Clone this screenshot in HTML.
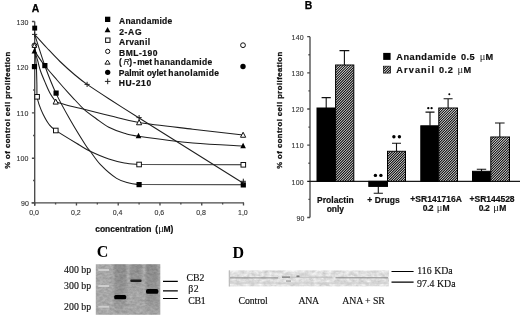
<!DOCTYPE html>
<html><head><meta charset="utf-8"><title>Figure</title>
<style>
html,body{margin:0;padding:0;background:#fff;}
svg{display:block;}
text{font-family:"Liberation Sans",sans-serif;fill:#111;}
.b{font-weight:bold;font-size:8.5px;stroke:#111;stroke-width:0.2px;}
.yl{font-size:7.7px;stroke-width:0.3px;}
.b2{font-weight:bold;font-size:9.2px;stroke:#111;stroke-width:0.2px;}
.pl{font-weight:bold;font-size:10.4px;fill:#000;stroke:#000;stroke-width:0.25px;}
.t{font-size:7px;fill:#333;stroke:#333;stroke-width:0.12px;}
.s{font-family:"Liberation Serif",serif;font-size:9.8px;fill:#111;stroke:#111;stroke-width:0.15px;}
.sb{font-family:"Liberation Serif",serif;font-weight:bold;font-size:16px;fill:#000;}
.sym{font-family:"Liberation Serif",serif;font-weight:normal;font-size:10.5px;stroke:none;fill:#222;}
.c{stroke:#1e1e1e;stroke-width:1.05;fill:none;}
.ax{stroke:#4a4a4a;stroke-width:1.35;fill:none;}
</style></head><body>
<svg width="520" height="322" viewBox="0 0 520 322">
<defs>
<filter id="bl" x="-5%" y="-20%" width="110%" height="140%"><feGaussianBlur stdDeviation="0.6"/></filter>
<filter id="bl2" x="-5%" y="-50%" width="110%" height="200%"><feGaussianBlur stdDeviation="0.45"/></filter>
<filter id="nzg" x="0" y="0" width="100%" height="100%" color-interpolation-filters="sRGB"><feTurbulence type="fractalNoise" baseFrequency="0.3 0.45" numOctaves="2" seed="7" result="n"/><feColorMatrix in="n" type="matrix" values="0.2 0 0 0 0.555  0.2 0 0 0 0.555  0.2 0 0 0 0.555  0 0 0 0 1"/><feComposite in2="SourceGraphic" operator="in"/></filter>
<filter id="nzb" x="0" y="0" width="100%" height="100%" color-interpolation-filters="sRGB"><feTurbulence type="fractalNoise" baseFrequency="0.22 0.3" numOctaves="3" seed="11" result="n"/><feColorMatrix in="n" type="matrix" values="0.26 0 0 0 0.745  0.26 0 0 0 0.745  0.26 0 0 0 0.745  0 0 0 0 1"/><feComposite in2="SourceGraphic" operator="in"/></filter>
<filter id="bl3" x="-20%" y="-5%" width="140%" height="110%"><feGaussianBlur stdDeviation="1.1 0.3"/></filter>
<linearGradient id="lg" x1="0" y1="0" x2="0" y2="1"><stop offset="0" stop-color="#000" stop-opacity="0.17"/><stop offset="0.7" stop-color="#000" stop-opacity="0.11"/><stop offset="1" stop-color="#000" stop-opacity="0.03"/></linearGradient>
<linearGradient id="lg3" x1="0" y1="0" x2="0" y2="1"><stop offset="0" stop-color="#000" stop-opacity="0.17"/><stop offset="0.3" stop-color="#000" stop-opacity="0.1"/><stop offset="0.45" stop-color="#000" stop-opacity="0.02"/><stop offset="1" stop-color="#000" stop-opacity="0"/></linearGradient>
</defs>
<rect width="520" height="322" fill="#fff"/>
<text x="31.8" y="11.9" class="pl">A</text>
<text transform="translate(9.9,168.8) rotate(-90)" class="b yl" textLength="117" lengthAdjust="spacing">% of control cell prolifeation</text>
<path class="ax" d="M34.70 21.50 V205.70 M31.50 202.80 H244.00"/>
<path class="ax" stroke-width="1" d="M31.90 21.50 H34.70M31.90 67.20 H34.70M31.90 112.80 H34.70M31.90 158.20 H34.70M31.90 202.80 H34.70M33.10 44.30 H34.70M33.10 90.00 H34.70M33.10 135.50 H34.70M33.10 180.50 H34.70M34.70 202.80 V205.40M55.58 202.80 V204.40M76.46 202.80 V205.40M97.34 202.80 V204.40M118.22 202.80 V205.40M139.10 202.80 V204.40M159.98 202.80 V205.40M180.86 202.80 V204.40M201.74 202.80 V205.40M222.62 202.80 V204.40M243.50 202.80 V205.40"/>
<text x="16.5" y="24.5" class="t" textLength="11.8" lengthAdjust="spacing">130</text>
<text x="16.5" y="70.2" class="t" textLength="11.8" lengthAdjust="spacing">120</text>
<text x="16.5" y="115.8" class="t" textLength="11.8" lengthAdjust="spacing">110</text>
<text x="16.5" y="161.2" class="t" textLength="11.8" lengthAdjust="spacing">100</text>
<text x="21.0" y="205.9" class="t" textLength="7.8" lengthAdjust="spacing">90</text>
<text x="29.3" y="214.8" class="t" textLength="9.6" lengthAdjust="spacing">0,0</text>
<text x="71.1" y="214.8" class="t" textLength="9.6" lengthAdjust="spacing">0,2</text>
<text x="112.8" y="214.8" class="t" textLength="9.6" lengthAdjust="spacing">0,4</text>
<text x="154.6" y="214.8" class="t" textLength="9.6" lengthAdjust="spacing">0,6</text>
<text x="196.3" y="214.8" class="t" textLength="9.6" lengthAdjust="spacing">0,8</text>
<text x="238.1" y="214.8" class="t" textLength="9.6" lengthAdjust="spacing">1,0</text>
<text x="95.2" y="232.1" class="b" textLength="56.2" lengthAdjust="spacing">concentration</text>
<text x="155.3" y="232.1" class="b">(<tspan class="sym" x="158.2">μ</tspan><tspan x="163.4">M)</tspan></text>
<path class="c" d="M34.70 34.50 C36.38 39.67 41.22 55.73 44.75 65.50 C48.28 75.27 51.69 84.10 55.90 93.10 C60.11 102.10 65.07 110.85 70.00 119.50 C74.93 128.15 82.13 139.72 85.50 145.00 C88.87 150.28 87.62 147.83 90.20 151.20 C92.78 154.57 96.60 160.67 101.00 165.20 C105.40 169.73 111.93 175.43 116.60 178.40 C121.27 181.37 125.25 181.97 129.00 183.00 C132.75 184.03 137.42 184.33 139.10 184.60 L243.3 184.8"/>
<path class="c" d="M34.60 46.00 C34.88 49.33 35.92 59.50 36.30 66.00 C36.68 72.50 36.77 79.87 36.90 85.00 C37.03 90.13 36.70 93.43 37.10 96.80 C37.50 100.17 38.28 102.25 39.30 105.20 C40.32 108.15 41.65 111.40 43.20 114.50 C44.75 117.60 46.52 121.15 48.60 123.80 C50.68 126.45 50.58 126.87 55.70 130.40 C60.82 133.93 73.55 141.53 79.30 145.00 C85.05 148.47 85.28 148.87 90.20 151.20 C95.12 153.53 103.12 157.05 108.80 159.00 C114.48 160.95 119.25 161.98 124.30 162.90 C129.35 163.82 136.63 164.23 139.10 164.50 L243.3 164.8"/>
<path class="c" d="M34.60 51.00 C36.08 53.17 39.77 59.17 43.50 64.00 C47.23 68.83 52.78 75.10 57.00 80.00 C61.22 84.90 65.80 90.07 68.80 93.40 C71.80 96.73 72.47 97.35 75.00 100.00 C77.53 102.65 80.50 106.22 84.00 109.30 C87.50 112.38 91.87 115.52 96.00 118.50 C100.13 121.48 104.08 124.75 108.80 127.20 C113.52 129.65 119.35 131.70 124.30 133.20 C129.25 134.70 127.08 134.57 138.50 136.20 C149.92 137.83 175.37 141.37 192.80 143.00 C210.23 144.63 234.72 145.50 243.10 146.00"/>
<path class="c" d="M34.70 46.00 C34.88 47.33 35.28 51.50 35.80 54.00 C36.32 56.50 37.02 58.17 37.80 61.00 C38.58 63.83 39.22 67.28 40.50 71.00 C41.78 74.72 43.88 79.55 45.50 83.30 C47.12 87.05 48.50 90.42 50.20 93.50 C51.90 96.58 54.78 100.42 55.70 101.80"/>
<path class="c" d="M55.70 101.80 C58.08 102.48 65.28 104.65 70.00 105.90 C74.72 107.15 77.33 107.67 84.00 109.30 C90.67 110.93 100.82 113.52 110.00 115.70 C119.18 117.88 125.30 120.15 139.10 122.40 C152.90 124.65 175.47 127.10 192.80 129.20 C210.13 131.30 234.72 134.03 243.10 135.00"/>
<path class="c" d="M34.70 34.50 C36.75 36.75 42.78 43.50 47.00 48.00 C51.22 52.50 55.33 57.00 60.00 61.50 C64.67 66.00 70.48 71.18 75.00 75.00 C79.52 78.82 81.27 80.32 87.10 84.40 C92.93 88.48 101.33 93.90 110.00 99.50 C118.67 105.10 134.25 114.92 139.10 118.00 L243.3 183.3"/>
<rect x="32.25" y="25.65" width="4.90" height="4.90" fill="#000"/>
<rect x="31.90" y="64.00" width="5.20" height="5.20" fill="#000"/>
<rect x="42.25" y="63.00" width="5.20" height="5.20" fill="#000"/>
<rect x="53.50" y="90.50" width="5.20" height="5.20" fill="#000"/>
<rect x="136.50" y="182.00" width="5.20" height="5.20" fill="#000"/>
<rect x="240.70" y="182.30" width="5.20" height="5.20" fill="#000"/>
<path d="M32.00 34.40 H37.20 M34.60 31.80 V37.00" stroke="#222" stroke-width="1" fill="none"/>
<path d="M84.50 84.40 H89.70 M87.10 81.80 V87.00" stroke="#222" stroke-width="1" fill="none"/>
<path d="M136.50 117.60 H141.70 M139.10 115.00 V120.20" stroke="#222" stroke-width="1" fill="none"/>
<path d="M240.70 181.30 H245.90 M243.30 178.70 V183.90" stroke="#222" stroke-width="1" fill="none"/>
<circle cx="34.40" cy="45.40" r="2.40" fill="#fff" stroke="#111" stroke-width="1"/>
<path d="M34.40 43.18 L36.60 47.45 L32.20 47.45 Z" fill="#fff" stroke="#111" stroke-width="1"/>
<path d="M34.40 48.12 L37.20 53.55 L31.60 53.55 Z" fill="#000"/>
<rect x="34.80" y="94.50" width="4.60" height="4.60" fill="#fff" stroke="#111" stroke-width="1"/>
<rect x="53.50" y="128.20" width="4.60" height="4.60" fill="#fff" stroke="#111" stroke-width="1"/>
<rect x="136.80" y="162.20" width="4.60" height="4.60" fill="#fff" stroke="#111" stroke-width="1"/>
<rect x="241.00" y="162.50" width="4.60" height="4.60" fill="#fff" stroke="#111" stroke-width="1"/>
<path d="M55.70 99.04 L58.30 104.08 L53.10 104.08 Z" fill="#fff" stroke="#111" stroke-width="1"/>
<path d="M139.10 119.74 L141.70 124.78 L136.50 124.78 Z" fill="#fff" stroke="#111" stroke-width="1"/>
<path d="M243.10 132.24 L245.70 137.28 L240.50 137.28 Z" fill="#fff" stroke="#111" stroke-width="1"/>
<path d="M138.50 132.72 L141.30 138.15 L135.70 138.15 Z" fill="#000"/>
<path d="M243.10 142.72 L245.90 148.15 L240.30 148.15 Z" fill="#000"/>
<circle cx="243.00" cy="45.20" r="2.40" fill="#fff" stroke="#111" stroke-width="1"/>
<circle cx="243.00" cy="66.50" r="2.70" fill="#000"/>
<rect x="105.00" y="16.70" width="5.30" height="5.30" fill="#000"/>
<path d="M107.55 27 L110.45 32.35 L104.65 32.35 Z" fill="#000"/>
<rect x="105.60" y="38.00" width="4.40" height="4.40" fill="#fff" stroke="#111" stroke-width="1"/>
<circle cx="107.70" cy="51.40" r="2.15" fill="#fff" stroke="#111" stroke-width="1"/>
<path d="M107.5 60 L110.1 64.15 L104.9 64.15 Z" fill="#fff" stroke="#111" stroke-width="1"/>
<circle cx="107.70" cy="72.30" r="2.65" fill="#000"/>
<path d="M104.90 81.40 H110.50 M107.70 78.60 V84.20" stroke="#222" stroke-width="1" fill="none"/>
<text x="119.0" y="23.7" class="b" textLength="53.3" lengthAdjust="spacing">Anandamide</text>
<text x="119.2" y="34.6" class="b" textLength="22.3" lengthAdjust="spacing">2-AG</text>
<text x="119.0" y="44.9" class="b" textLength="31.0" lengthAdjust="spacing">Arvanil</text>
<text x="119.0" y="55.5" class="b" textLength="38.5" lengthAdjust="spacing">BML-190</text>
<text y="65.4" class="b"><tspan x="118.9">(</tspan><tspan x="123.6" font-style="italic" font-weight="normal" stroke-width="0.1">R</tspan><tspan x="129.2">)</tspan><tspan x="133.2">-</tspan><tspan x="137.2" textLength="14.8" lengthAdjust="spacing">met</tspan><tspan x="154.1" textLength="58.2" lengthAdjust="spacing">hanandamide</tspan></text>
<text y="75.9" class="b"><tspan x="118.8" textLength="25.4" lengthAdjust="spacing">Palmit</tspan><tspan x="146.7" textLength="19.7" lengthAdjust="spacing">oylet</tspan><tspan x="168.3" textLength="50.8" lengthAdjust="spacing">hanolamide</tspan></text>
<text x="118.8" y="85.5" class="b" textLength="32.4" lengthAdjust="spacing">HU-210</text>
<text x="304.8" y="9.3" class="pl">B</text>
<text transform="translate(281.6,168.8) rotate(-90)" class="b yl" textLength="117" lengthAdjust="spacing">% of control cell prolifeation</text>
<path class="ax" d="M310.00 36.70 V217.50"/><path d="M307.20 181.33 H520" stroke="#1a1a1a" stroke-width="1.2"/>
<path class="ax" stroke-width="1" d="M307.20 36.65 H310.00M307.20 72.82 H310.00M307.20 108.99 H310.00M307.20 145.16 H310.00M307.20 217.50 H310.00M308.40 54.73 H310.00M308.40 90.91 H310.00M308.40 127.07 H310.00M308.40 163.25 H310.00M308.40 199.41 H310.00"/>
<text x="291.6" y="39.9" class="t" textLength="12.0" lengthAdjust="spacing">140</text>
<text x="291.6" y="76.0" class="t" textLength="12.0" lengthAdjust="spacing">130</text>
<text x="291.6" y="112.2" class="t" textLength="12.0" lengthAdjust="spacing">120</text>
<text x="291.6" y="148.4" class="t" textLength="12.0" lengthAdjust="spacing">110</text>
<text x="291.6" y="184.5" class="t" textLength="12.0" lengthAdjust="spacing">100</text>
<text x="296.5" y="220.9" class="t" textLength="8.0" lengthAdjust="spacing">90</text>
<path d="M326.20 108.00 V97.60 M321.60 97.60 H330.80" stroke="#111" stroke-width="1.1" fill="none"/>
<path d="M344.40 65.00 V50.60 M339.50 50.60 H349.30" stroke="#111" stroke-width="1.1" fill="none"/>
<rect x="317.00" y="108.00" width="18.60" height="73.33" fill="#000" stroke="#000" stroke-width="1"/>
<clipPath id="cp1"><rect x="335.60" y="65.00" width="18.20" height="116.33"/></clipPath>
<rect x="335.60" y="65.00" width="18.20" height="116.33" fill="#fff"/>
<path d="M217.27 181.33 L333.60 65.00M219.77 181.33 L336.10 65.00M222.27 181.33 L338.60 65.00M224.77 181.33 L341.10 65.00M227.27 181.33 L343.60 65.00M229.77 181.33 L346.10 65.00M232.27 181.33 L348.60 65.00M234.77 181.33 L351.10 65.00M237.27 181.33 L353.60 65.00M239.77 181.33 L356.10 65.00M242.27 181.33 L358.60 65.00M244.77 181.33 L361.10 65.00M247.27 181.33 L363.60 65.00M249.77 181.33 L366.10 65.00M252.27 181.33 L368.60 65.00M254.77 181.33 L371.10 65.00M257.27 181.33 L373.60 65.00M259.77 181.33 L376.10 65.00M262.27 181.33 L378.60 65.00M264.77 181.33 L381.10 65.00M267.27 181.33 L383.60 65.00M269.77 181.33 L386.10 65.00M272.27 181.33 L388.60 65.00M274.77 181.33 L391.10 65.00M277.27 181.33 L393.60 65.00M279.77 181.33 L396.10 65.00M282.27 181.33 L398.60 65.00M284.77 181.33 L401.10 65.00M287.27 181.33 L403.60 65.00M289.77 181.33 L406.10 65.00M292.27 181.33 L408.60 65.00M294.77 181.33 L411.10 65.00M297.27 181.33 L413.60 65.00M299.77 181.33 L416.10 65.00M302.27 181.33 L418.60 65.00M304.77 181.33 L421.10 65.00M307.27 181.33 L423.60 65.00M309.77 181.33 L426.10 65.00M312.27 181.33 L428.60 65.00M314.77 181.33 L431.10 65.00M317.27 181.33 L433.60 65.00M319.77 181.33 L436.10 65.00M322.27 181.33 L438.60 65.00M324.77 181.33 L441.10 65.00M327.27 181.33 L443.60 65.00M329.77 181.33 L446.10 65.00M332.27 181.33 L448.60 65.00M334.77 181.33 L451.10 65.00M337.27 181.33 L453.60 65.00M339.77 181.33 L456.10 65.00M342.27 181.33 L458.60 65.00M344.77 181.33 L461.10 65.00M347.27 181.33 L463.60 65.00M349.77 181.33 L466.10 65.00M352.27 181.33 L468.60 65.00M354.77 181.33 L471.10 65.00" stroke="#000" stroke-width="1.05" fill="none" clip-path="url(#cp1)"/>
<rect x="335.60" y="65.00" width="18.20" height="116.33" fill="none" stroke="#000" stroke-width="1"/>
<path d="M378.30 186.40 V193.30 M373.70 193.30 H382.90" stroke="#111" stroke-width="1.1" fill="none"/>
<path d="M396.50 151.30 V143.30 M392.00 143.30 H401.00" stroke="#111" stroke-width="1.1" fill="none"/>
<rect x="368.80" y="181.33" width="18.70" height="5.07" fill="#000" stroke="#000" stroke-width="1"/>
<clipPath id="cp2"><rect x="387.50" y="151.30" width="18.00" height="30.03"/></clipPath>
<rect x="387.50" y="151.30" width="18.00" height="30.03" fill="#fff"/>
<path d="M355.47 181.33 L385.50 151.30M357.97 181.33 L388.00 151.30M360.47 181.33 L390.50 151.30M362.97 181.33 L393.00 151.30M365.47 181.33 L395.50 151.30M367.97 181.33 L398.00 151.30M370.47 181.33 L400.50 151.30M372.97 181.33 L403.00 151.30M375.47 181.33 L405.50 151.30M377.97 181.33 L408.00 151.30M380.47 181.33 L410.50 151.30M382.97 181.33 L413.00 151.30M385.47 181.33 L415.50 151.30M387.97 181.33 L418.00 151.30M390.47 181.33 L420.50 151.30M392.97 181.33 L423.00 151.30M395.47 181.33 L425.50 151.30M397.97 181.33 L428.00 151.30M400.47 181.33 L430.50 151.30M402.97 181.33 L433.00 151.30M405.47 181.33 L435.50 151.30" stroke="#000" stroke-width="1.05" fill="none" clip-path="url(#cp2)"/>
<rect x="387.50" y="151.30" width="18.00" height="30.03" fill="none" stroke="#000" stroke-width="1"/>
<path d="M430.00 125.80 V112.10 M425.50 112.10 H434.50" stroke="#111" stroke-width="1.1" fill="none"/>
<path d="M448.10 108.00 V98.80 M443.60 98.80 H452.60" stroke="#111" stroke-width="1.1" fill="none"/>
<rect x="420.80" y="125.80" width="18.00" height="55.53" fill="#000" stroke="#000" stroke-width="1"/>
<clipPath id="cp3"><rect x="438.80" y="108.00" width="18.70" height="73.33"/></clipPath>
<rect x="438.80" y="108.00" width="18.70" height="73.33" fill="#fff"/>
<path d="M363.47 181.33 L436.80 108.00M365.97 181.33 L439.30 108.00M368.47 181.33 L441.80 108.00M370.97 181.33 L444.30 108.00M373.47 181.33 L446.80 108.00M375.97 181.33 L449.30 108.00M378.47 181.33 L451.80 108.00M380.97 181.33 L454.30 108.00M383.47 181.33 L456.80 108.00M385.97 181.33 L459.30 108.00M388.47 181.33 L461.80 108.00M390.97 181.33 L464.30 108.00M393.47 181.33 L466.80 108.00M395.97 181.33 L469.30 108.00M398.47 181.33 L471.80 108.00M400.97 181.33 L474.30 108.00M403.47 181.33 L476.80 108.00M405.97 181.33 L479.30 108.00M408.47 181.33 L481.80 108.00M410.97 181.33 L484.30 108.00M413.47 181.33 L486.80 108.00M415.97 181.33 L489.30 108.00M418.47 181.33 L491.80 108.00M420.97 181.33 L494.30 108.00M423.47 181.33 L496.80 108.00M425.97 181.33 L499.30 108.00M428.47 181.33 L501.80 108.00M430.97 181.33 L504.30 108.00M433.47 181.33 L506.80 108.00M435.97 181.33 L509.30 108.00M438.47 181.33 L511.80 108.00M440.97 181.33 L514.30 108.00M443.47 181.33 L516.80 108.00M445.97 181.33 L519.30 108.00M448.47 181.33 L521.80 108.00M450.97 181.33 L524.30 108.00M453.47 181.33 L526.80 108.00M455.97 181.33 L529.30 108.00M458.47 181.33 L531.80 108.00" stroke="#000" stroke-width="1.05" fill="none" clip-path="url(#cp3)"/>
<rect x="438.80" y="108.00" width="18.70" height="73.33" fill="none" stroke="#000" stroke-width="1"/>
<path d="M481.50 171.30 V169.30 M476.80 169.30 H486.20" stroke="#111" stroke-width="1.1" fill="none"/>
<path d="M499.80 137.00 V123.00 M495.00 123.00 H504.60" stroke="#111" stroke-width="1.1" fill="none"/>
<rect x="472.50" y="171.30" width="18.30" height="10.03" fill="#000" stroke="#000" stroke-width="1"/>
<clipPath id="cp4"><rect x="490.80" y="137.00" width="18.70" height="44.33"/></clipPath>
<rect x="490.80" y="137.00" width="18.70" height="44.33" fill="#fff"/>
<path d="M444.47 181.33 L488.80 137.00M446.97 181.33 L491.30 137.00M449.47 181.33 L493.80 137.00M451.97 181.33 L496.30 137.00M454.47 181.33 L498.80 137.00M456.97 181.33 L501.30 137.00M459.47 181.33 L503.80 137.00M461.97 181.33 L506.30 137.00M464.47 181.33 L508.80 137.00M466.97 181.33 L511.30 137.00M469.47 181.33 L513.80 137.00M471.97 181.33 L516.30 137.00M474.47 181.33 L518.80 137.00M476.97 181.33 L521.30 137.00M479.47 181.33 L523.80 137.00M481.97 181.33 L526.30 137.00M484.47 181.33 L528.80 137.00M486.97 181.33 L531.30 137.00M489.47 181.33 L533.80 137.00M491.97 181.33 L536.30 137.00M494.47 181.33 L538.80 137.00M496.97 181.33 L541.30 137.00M499.47 181.33 L543.80 137.00M501.97 181.33 L546.30 137.00M504.47 181.33 L548.80 137.00M506.97 181.33 L551.30 137.00M509.47 181.33 L553.80 137.00" stroke="#000" stroke-width="1.05" fill="none" clip-path="url(#cp4)"/>
<rect x="490.80" y="137.00" width="18.70" height="44.33" fill="none" stroke="#000" stroke-width="1"/>
<circle cx="375.40" cy="175.40" r="1.70" fill="#000"/>
<circle cx="380.90" cy="175.40" r="1.70" fill="#000"/>
<circle cx="393.90" cy="136.80" r="1.70" fill="#000"/>
<circle cx="399.40" cy="136.80" r="1.70" fill="#000"/>
<circle cx="428.30" cy="108.20" r="1.15" fill="#000"/>
<circle cx="431.60" cy="108.20" r="1.15" fill="#000"/>
<circle cx="449.30" cy="94.30" r="1.00" fill="#000"/>
<rect x="383.2" y="52.9" width="7.4" height="7" fill="#000"/>
<clipPath id="cpl"><rect x="383.5" y="66.2" width="7" height="6.9"/></clipPath>
<rect x="383.5" y="66.2" width="7" height="6.9" fill="#fff"/>
<path d="M374.50 73.10 L381.40 66.20M377.00 73.10 L383.90 66.20M379.50 73.10 L386.40 66.20M382.00 73.10 L388.90 66.20M384.50 73.10 L391.40 66.20M387.00 73.10 L393.90 66.20M389.50 73.10 L396.40 66.20" stroke="#000" stroke-width="1.05" fill="none" clip-path="url(#cpl)"/>
<rect x="383.5" y="66.2" width="7" height="6.9" fill="none" stroke="#000" stroke-width="0.7"/>
<text x="396.3" y="59.7" class="b2" textLength="59.7" lengthAdjust="spacing">Anandamide</text>
<text x="460.9" y="59.7" class="b2" textLength="13.7" lengthAdjust="spacing">0.5</text>
<text x="479.8" y="59.7" class="b2"><tspan class="sym">μ</tspan><tspan x="485.6">M</tspan></text>
<text x="396.3" y="72.8" class="b2" textLength="37.7" lengthAdjust="spacing">Arvanil</text>
<text x="439.0" y="72.8" class="b2" textLength="13.8" lengthAdjust="spacing">0.2</text>
<text x="457.6" y="72.8" class="b2"><tspan class="sym">μ</tspan><tspan x="463.4">M</tspan></text>
<text x="316.9" y="202.9" class="b" textLength="36.9" lengthAdjust="spacing">Prolactin</text>
<text x="326.7" y="211.9" class="b" textLength="17.3" lengthAdjust="spacing">only</text>
<text x="367.2" y="203.3" class="b" textLength="32.6" lengthAdjust="spacing">+ Drugs</text>
<text x="410.3" y="201.5" class="b" textLength="51.6" lengthAdjust="spacing">+SR141716A</text>
<text x="422.7" y="211.0" class="b" textLength="10.9" lengthAdjust="spacing">0.2</text>
<text x="436.7" y="211" class="b"><tspan class="sym">μ</tspan><tspan x="442.4">M</tspan></text>
<text x="469.6" y="201.5" class="b" textLength="45.0" lengthAdjust="spacing">+SR144528</text>
<text x="478.8" y="211.0" class="b" textLength="11.0" lengthAdjust="spacing">0.2</text>
<text x="493.2" y="211" class="b"><tspan class="sym">μ</tspan><tspan x="499.2">M</tspan></text>
<text x="96.8" y="257.2" class="sb">C</text>
<text x="64.1" y="272.9" class="s" textLength="27.0" lengthAdjust="spacing">400 bp</text>
<text x="64.1" y="289.0" class="s" textLength="27.0" lengthAdjust="spacing">300 bp</text>
<text x="64.1" y="310.0" class="s" textLength="27.0" lengthAdjust="spacing">200 bp</text>
<g>
<rect x="95.8" y="264.2" width="64.5" height="50.6" fill="#a4a4a4" filter="url(#nzg)"/>
<g filter="url(#bl3)">
<rect x="114.3" y="264.2" width="12.2" height="50.6" fill="url(#lg)"/>
<rect x="130" y="264.2" width="11.8" height="50.6" fill="url(#lg3)"/>
<rect x="145.6" y="264.2" width="12.8" height="50.6" fill="url(#lg)"/>
</g>
<g filter="url(#bl)">
<rect x="98.3" y="269.0" width="10.8" height="2" fill="#cecece"/>
<rect x="98.3" y="285.0" width="10.8" height="2" fill="#cecece"/>
<rect x="98.3" y="305.7" width="10.8" height="2" fill="#cecece"/>
<rect x="114.2" y="295" width="12" height="4.2" rx="1.5" fill="#000"/>
<rect x="130.3" y="279.4" width="11.3" height="2.6" rx="1" fill="#1c1c1c"/>
<rect x="146" y="289" width="12.4" height="4.8" rx="1.9" fill="#000"/>
</g></g>
<path d="M163 281.3 H177.8 M163 290.9 H177.8 M163 298.5 H177.8" stroke="#000" stroke-width="1.15"/>
<text x="186.5" y="280.8" class="s" textLength="17.8" lengthAdjust="spacing">CB2</text>
<text x="188.2" y="292.3" class="s" textLength="10.4" lengthAdjust="spacing">β2</text>
<text x="188.2" y="303.7" class="s" textLength="17.4" lengthAdjust="spacing">CB1</text>
<text x="232.5" y="257.8" class="sb">D</text>
<g>
<rect x="228.8" y="270.4" width="160.2" height="16" fill="#dedede" filter="url(#nzb)"/>
<g filter="url(#bl2)">
<rect x="229.5" y="277.4" width="48.5" height="1" fill="#8a8a8a"/>
<rect x="282" y="276.7" width="50" height="1" fill="#bdbdbd"/>
<rect x="282" y="276.4" width="8" height="1.5" fill="#8a8a8a"/><rect x="296.5" y="275.4" width="3" height="1.7" fill="#7a7a7a"/><rect x="286" y="280.4" width="5" height="1.3" fill="#9a9a9a"/>
<rect x="335.5" y="277.3" width="52.5" height="1" fill="#868686"/>
<rect x="229.5" y="282.6" width="158" height="0.9" fill="#c8c8c8"/><rect x="228.8" y="270.4" width="1.2" height="16" fill="#bdbdbd"/>
</g></g>
<path d="M391.5 271.5 H413.6 M391.5 282.2 H413.6" stroke="#000" stroke-width="1.2"/>
<text x="417.3" y="274.4" class="s" textLength="35.4" lengthAdjust="spacing">116 KDa</text>
<text x="417.1" y="286.8" class="s" textLength="38.4" lengthAdjust="spacing">97.4 KDa</text>
<text x="238.5" y="304.4" class="s" textLength="29.3" lengthAdjust="spacing">Control</text>
<text x="298.5" y="304.4" class="s" textLength="20.5" lengthAdjust="spacing">ANA</text>
<text x="342.2" y="304.4" class="s" textLength="42.6" lengthAdjust="spacing">ANA + SR</text>
</svg></body></html>
